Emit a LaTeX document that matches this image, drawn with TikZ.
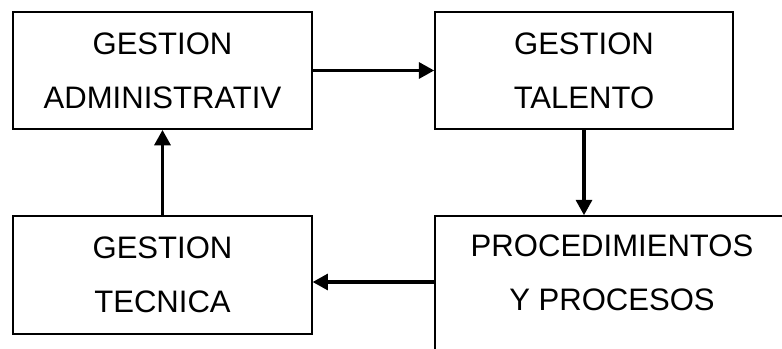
\documentclass[tikz,border=0pt]{standalone}
\usepackage{fontspec}
\setmainfont{Liberation Sans}
\usetikzlibrary{arrows.meta}

\tikzset{
  caja/.style={draw, line width=1.2pt, align=center, inner sep=0pt,
    font=\fontsize{23.3}{40.5}\selectfont},
  flecha/.style={line width=2.4pt, -{Triangle[length=11.5pt,width=12pt]}}
}

\begin{document}
\begin{tikzpicture}[x=0.75pt, y=-0.75pt]
                        \useasboundingbox (0,0) rectangle (782,349);
                        \clip (0,0) rectangle (782,349);

                        \node[caja, minimum width=224pt, minimum height=88pt] (adm) at (162.5,70.5) {GESTION\\ADMINISTRATIV};
                        \node[caja, minimum width=223.5pt, minimum height=88pt] (tal) at (584,70.5) {GESTION\\TALENTO};
                        \node[caja, minimum width=224pt, minimum height=88.5pt] (tec) at (162.5,275) {GESTION\\TECNICA};
                        \node[caja, minimum width=265.5pt, minimum height=126pt] (proc) at (612,300) {PROCEDIMIENTOS\\Y PROCESOS\\\phantom{Y}};

                        \draw[flecha] (adm.east) -- (tal.west);
                        \draw[flecha] (tal.south) -- (tal.south |- proc.north);
                        \draw[flecha] ([yshift=-5.25pt]tec.east -| proc.west) -- ([yshift=-5.25pt]tec.east);
                        \draw[flecha] (tec.north) -- (adm.south);
                    \end{tikzpicture}
\end{document}
